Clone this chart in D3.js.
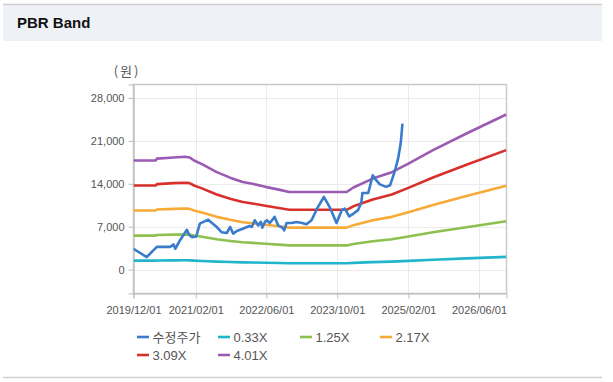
<!DOCTYPE html>
<html><head><meta charset="utf-8">
<script src="https://cdn.jsdelivr.net/npm/d3@7"></script>
<style>
body{margin:0;background:#fff;}
svg{display:block;font-family:"Liberation Sans",Arial,"Noto Sans CJK KR",sans-serif;}
</style>
</head><body>
<svg id="c" width="613" height="382"></svg>
<script>
// ---- data ----
const priceDates = ["2019-12-01","2020-03-01","2020-05-09","2020-08-09","2020-09-01","2020-09-13","2020-10-16","2020-12-02","2020-12-19","2021-01-07","2021-02-04","2021-03-01","2021-04-27","2021-06-25","2021-07-28","2021-09-02","2021-09-25","2021-10-16","2021-11-10","2021-12-25","2022-02-05","2022-02-21","2022-03-13","2022-04-06","2022-04-24","2022-05-04","2022-05-22","2022-06-04","2022-06-25","2022-07-28","2022-08-21","2022-09-18","2022-10-01","2022-10-18","2022-11-21","2022-12-25","2023-02-01","2023-03-04","2023-04-07","2023-05-21","2023-07-01","2023-08-10","2023-09-26","2023-11-01","2023-11-22","2023-12-22","2024-01-19","2024-02-21","2024-03-15","2024-03-22","2024-05-01","2024-06-01","2024-06-16","2024-07-20","2024-09-01","2024-09-28","2024-11-01","2024-11-22","2024-12-10","2024-12-16","2024-12-22"];
const priceValues = [3400,2050,3700,3700,4100,3400,4800,6500,5600,5300,5400,7500,8150,6950,6100,5970,6950,5870,6300,6700,7100,6950,8050,7200,7800,6850,7770,8050,7600,8600,7200,6850,6400,7600,7600,7770,7600,7400,8050,10200,11850,10200,7600,9700,9950,8700,9100,9700,11000,12500,12500,15400,14850,13900,13500,13750,16200,18100,20600,22200,23800];

const bandDates = ["2019-12-01","2020-05-01","2020-05-10","2020-09-01","2020-11-20","2020-12-20","2021-01-20","2021-03-15","2021-06-25","2021-09-25","2021-12-20","2022-02-25","2022-05-25","2022-08-25","2022-11-05","2023-12-05","2024-01-20","2024-06-01","2024-10-10","2025-02-01","2025-07-20","2026-03-07","2026-12-05"];
const band033 = [1465,1465,1490,1506,1514,1506,1465,1415,1308,1235,1177,1152,1111,1074,1042,1042,1103,1222,1308,1424,1605,1827,2082];
const band125 = [5549,5549,5643,5705,5736,5705,5549,5361,4956,4676,4458,4364,4209,4068,3946,3946,4178,4629,4956,5393,6079,6920,7886];
const band217 = [9633,9633,9795,9904,9958,9904,9633,9307,8604,8118,7738,7575,7306,7061,6851,6851,7252,8036,8604,9361,10553,12013,13691];
const band309 = [13717,13717,13948,14103,14180,14103,13717,13253,12252,11560,11019,10787,10404,10055,9755,9755,10327,11442,12252,13330,15027,17106,19495];
const band401 = [17800,17800,18100,18300,18400,18300,17800,17200,15900,15000,14300,14000,13500,13050,12660,12660,13400,14850,15900,17300,19500,22200,25300];

const seriesNames = ["수정주가","0.33X","1.25X","2.17X","3.09X","4.01X"];
const seriesColors = ["#3b7bcb","#20b5cb","#8dc04f","#f7aa36","#d8312c","#9c5bb3"];
const yTickValues = [0,7000,14000,21000,28000];
const xTickLabels = ["2019/12/01","2021/02/01","2022/06/01","2023/10/01","2025/02/01","2026/06/01"];
const xDomainLabels = ["2019/12/01","2026/12/07"];
const yDomain = [-3900,30200];

// ---- drawing ----
const parseD = d3.timeParse("%Y-%m-%d");
const parseS = d3.timeParse("%Y/%m/%d");
const svg = d3.select("#c");
const L = 133.5, R = 506.5, T = 84.5, B = 293.5;

// panel
svg.append("rect").attr("x",3).attr("y",4).attr("width",599).attr("height",374).attr("fill","#fff");
svg.append("rect").attr("x",3).attr("y",5).attr("width",599).attr("height",36).attr("fill","#eef2f7");
svg.append("line").attr("x1",3).attr("x2",602).attr("y1",4.5).attr("y2",4.5).attr("stroke","#cfcfcf").attr("stroke-width",1.5);
svg.append("line").attr("x1",3).attr("x2",602).attr("y1",377.5).attr("y2",377.5).attr("stroke","#cfcfcf").attr("stroke-width",1.5);
svg.append("text").attr("x",17).attr("y",28).attr("font-size",15).attr("font-weight","bold").attr("fill","#111").text("PBR Band");

const x = d3.scaleTime().domain(xDomainLabels.map(parseS)).range([L,R]);
const y = d3.scaleLinear().domain(yDomain).range([B,T]);

// grid
const g = svg.append("g");
g.selectAll(".hg").data(yTickValues).join("line")
  .attr("x1",L).attr("x2",R).attr("y1",d=>Math.round(y(d))+0.5).attr("y2",d=>Math.round(y(d))+0.5)
  .attr("stroke","#ebebeb").attr("stroke-width",1);
g.selectAll(".vg").data(xTickLabels.map(parseS)).join("line")
  .attr("x1",d=>Math.round(x(d))+0.5).attr("x2",d=>Math.round(x(d))+0.5).attr("y1",T).attr("y2",B)
  .attr("stroke","#ebebeb").attr("stroke-width",1);
// frame
svg.append("rect").attr("x",L).attr("y",T).attr("width",R-L).attr("height",B-T)
  .attr("fill","none").attr("stroke","#c9c9c9").attr("stroke-width",1.5);

// axes
const yAxis = d3.axisLeft(y).tickValues(yTickValues).tickFormat(d3.format(",")).tickSize(5).tickPadding(4);
const ya = svg.append("g").attr("transform",`translate(${L},0)`).call(yAxis);
ya.select(".domain").attr("stroke","#bdbdbd");
ya.selectAll(".tick line").attr("stroke","#bdbdbd");
ya.selectAll(".tick text").attr("font-size",11).attr("fill","#555").attr("font-family","'Liberation Sans',Arial,sans-serif");

const xAxis = d3.axisBottom(x).tickValues(xTickLabels.map(parseS)).tickFormat(d3.timeFormat("%Y/%m/%d")).tickSize(5).tickPadding(8);
const xa = svg.append("g").attr("transform",`translate(0,${B})`).call(xAxis);
xa.select(".domain").attr("stroke","#bdbdbd");
xa.selectAll(".tick line").attr("stroke","#bdbdbd");
xa.selectAll(".tick text").attr("font-size",11).attr("fill","#555").attr("font-family","'Liberation Sans',Arial,sans-serif");

svg.append("text").attr("x",127).attr("y",76).attr("text-anchor","middle").attr("font-size",13)
  .attr("letter-spacing","2px")
  .attr("fill","#555").attr("font-family","'Noto Sans CJK KR',sans-serif").text("(원)");

// lines
svg.append("clipPath").attr("id","pc").append("rect").attr("x",L).attr("y",T).attr("width",R-L).attr("height",B-T);
const line = d3.line().x(d=>x(d[0])).y(d=>y(d[1]));
const bands = [band033,band125,band217,band309,band401];
const bd = bandDates.map(parseD);
const lg = svg.append("g").attr("clip-path","url(#pc)");
bands.forEach((vals,i)=>{
  lg.append("path").datum(bd.map((d,j)=>[d,vals[j]]))
    .attr("d",line).attr("fill","none").attr("stroke",seriesColors[i+1]).attr("stroke-width",2.6)
    .attr("stroke-linejoin","round");
});
lg.append("path").datum(priceDates.map((d,j)=>[parseD(d),priceValues[j]]))
  .attr("d",line).attr("fill","none").attr("stroke",seriesColors[0]).attr("stroke-width",2.6)
  .attr("stroke-linejoin","round");

// legend
const legPos = [[137,337],[218,337],[300,337],[380,337],[137,355],[218,355]];
seriesNames.forEach((n,i)=>{
  const [lx,ly] = legPos[i];
  svg.append("line").attr("x1",lx).attr("x2",lx+12).attr("y1",ly).attr("y2",ly)
    .attr("stroke",seriesColors[i]).attr("stroke-width",2.6);
  svg.append("text").attr("x",lx+15.5).attr("y",ly).attr("dy","0.36em").attr("font-size",13)
    .attr("fill","#555").attr("font-family","'Liberation Sans',Arial,'Noto Sans CJK KR',sans-serif").text(n);
});
</script>
</body></html>
